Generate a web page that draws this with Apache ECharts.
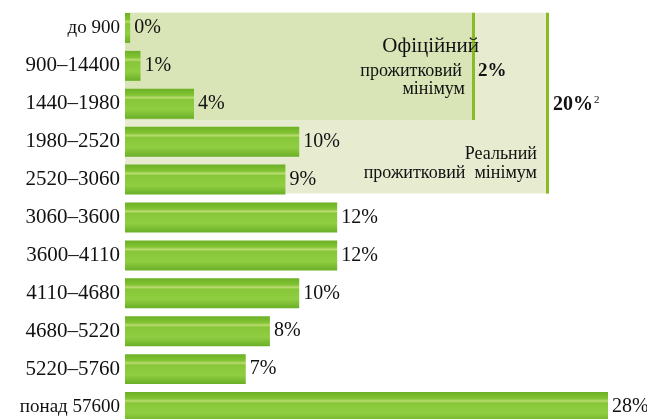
<!DOCTYPE html>
<html>
<head>
<meta charset="utf-8">
<script src="https://cdn.jsdelivr.net/npm/echarts@6/dist/echarts.min.js"></script>
<style>
  html, body { margin: 0; padding: 0; background: #fff; }
  #main { width: 647px; height: 419px; }
</style>
</head>
<body>
<div id="main"></div>
<script>
// доходи, грн на місяць
var categories = ['до 900', '900–14400', '1440–1980', '1980–2520', '2520–3060', '3060–3600',
  '3600–4110', '4110–4680', '4680–5220', '5220–5760', 'понад 57600']
// довжина смуги (оцінка з малюнка) і підпис
var barValues = [0.3, 0.9, 4.0, 10.1, 9.3, 12.3, 12.3, 10.1, 8.4, 7.0, 28.0]
var barLabels = ['0%', '1%', '4%', '10%', '9%', '12%', '12%', '10%', '8%', '7%', '28%']
// межі прожиткового мінімуму (x у %, y у рядах)
var officialMin = { x: 20.2, rowFrom: 0.1, rowTo: 2.93 }
var realMin = { x: 24.5, rowFrom: 0.1, rowTo: 4.87 }

var serif = '"Liberation Serif", "DejaVu Serif", serif'
var leaf = {
  type: 'linear', x: 0, y: 0, x2: 0, y2: 1,
  colorStops: [
    { offset: 0, color: '#6cb024' },
    { offset: 0.22, color: '#82c434' },
    { offset: 0.3, color: '#bcdc72' },
    { offset: 0.36, color: '#86c738' },
    { offset: 0.7, color: '#90cd42' },
    { offset: 1, color: '#69af26' }
  ]
}

var chart = echarts.init(document.getElementById('main'))
chart.setOption({
  animation: false,
  grid: { left: 125, top: 9, width: 517.5, height: 417, outerBoundsMode: 'none', containLabel: false },
  xAxis: { type: 'value', min: 0, max: 30, show: false },
  yAxis: [
    {
      type: 'category',
      inverse: true,
      data: categories,
      axisLine: { show: false },
      axisTick: { show: false },
      axisLabel: {
        margin: 5,
        color: '#111',
        fontFamily: serif,
        fontSize: 21,
        formatter: function (v) {
          if (v === 'до 900' || v === 'понад 57600') return '{s|' + v + '}'
          return v
        },
        rich: { s: { fontFamily: serif, fontSize: 19, color: '#111' } }
      }
    },
    { type: 'value', min: 0, max: 11, inverse: true, show: false }
  ],
  series: [
    {
      name: 'areas',
      type: 'scatter',
      yAxisIndex: 1,
      data: [],
      z: 1,
      silent: true,
      markArea: {
        silent: true,
        data: [
          [{ xAxis: 0, yAxis: realMin.rowFrom, itemStyle: { color: '#e7ecd1' } },
            { xAxis: realMin.x, yAxis: realMin.rowTo }],
          [{ xAxis: 0, yAxis: officialMin.rowFrom, itemStyle: { color: '#d9e5b6' } },
            { xAxis: officialMin.x, yAxis: officialMin.rowTo }]
        ]
      },
      markLine: {
        silent: true,
        symbol: 'none',
        label: { show: false },
        lineStyle: { color: '#8bbb22', width: 3, type: 'solid' },
        data: [
          [{ xAxis: officialMin.x, yAxis: officialMin.rowFrom }, { xAxis: officialMin.x, yAxis: officialMin.rowTo }],
          [{ xAxis: realMin.x, yAxis: realMin.rowFrom }, { xAxis: realMin.x, yAxis: realMin.rowTo }]
        ]
      }
    },
    {
      name: 'share',
      type: 'bar',
      z: 3,
      barCategoryGap: '21%',
      data: barValues,
      itemStyle: { color: leaf },
      label: {
        show: true,
        position: 'right',
        distance: 4,
        color: '#111',
        fontFamily: serif,
        fontSize: 20,
        formatter: function (p) { return barLabels[p.dataIndex] }
      }
    }
  ],
  graphic: [
    { type: 'text', right: 168, top: 36, style: { text: 'Офіційний', font: '21px ' + serif, fill: '#111' }, z: 10 },
    { type: 'text', right: 185, top: 62, style: { text: 'прожитковий', font: '18px ' + serif, fill: '#111' }, z: 10 },
    { type: 'text', right: 182, top: 80, style: { text: 'мінімум', font: '18px ' + serif, fill: '#111' }, z: 10 },
    { type: 'text', left: 478, top: 62, style: { text: '2%', font: 'bold 19px ' + serif, fill: '#111' }, z: 10 },
    {
      type: 'text', left: 553, top: 95, z: 10,
      style: {
        text: '{b|20%}{sup|2}',
        rich: {
          b: { font: 'bold 20px ' + serif, fill: '#111' },
          sup: { font: '11px ' + serif, fill: '#111', verticalAlign: 'top', padding: [0, 0, 8, 1] }
        }
      }
    },
    { type: 'text', right: 110, top: 145, style: { text: 'Реальний', font: '18px ' + serif, fill: '#111' }, z: 10 },
    { type: 'text', right: 110, top: 164, style: { text: 'прожитковий  мінімум', font: '18px ' + serif, fill: '#111' }, z: 10 }
  ]
})
</script>
</body>
</html>
